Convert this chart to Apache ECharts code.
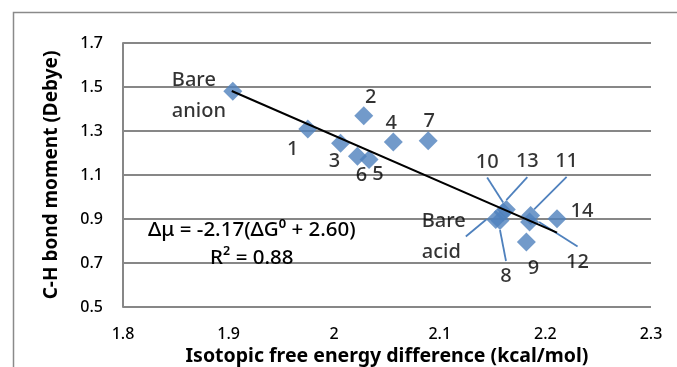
<!DOCTYPE html>
<html>
<head>
<meta charset="utf-8">
<script src="https://cdn.jsdelivr.net/npm/echarts@6/dist/echarts.min.js"></script>
<style>
html,body{margin:0;padding:0;background:#fff;}
#chart{width:677px;height:367px;}
</style>
</head>
<body>
<div id="chart"></div>
<script>
// ---- data ----
const pointNames = ['Bare anion', '1', '2', '3', '4', '5', '6', '7', 'Bare acid', '8', '9', '10', '11', '12', '13', '14'];
const isoFreeEnergy = [1.904, 1.975, 2.028, 2.006, 2.056, 2.033, 2.022, 2.089, 2.153, 2.157, 2.182, 2.160, 2.186, 2.185, 2.163, 2.211];
const bondMoment = [1.481, 1.309, 1.369, 1.244, 1.250, 1.171, 1.185, 1.256, 0.898, 0.893, 0.795, 0.932, 0.916, 0.886, 0.943, 0.901];
const trendX = [1.903, 2.211];
const trendY = [1.482, 0.838];
const xTicks = { min: 1.8, max: 2.3, step: 0.1 };
const yTicks = { min: 0.5, max: 1.7, step: 0.2 };
const pointLabels = ['Bare\nanion', '1', '2', '3', '4', '5', '6', '7', 'Bare\nacid', '8', '9', '10', '11', '12', '13', '14'];
const leaderNames = ['Bare acid', '8', '10', '11', '12', '13'];
const equationText = 'Δμ = -2.17(ΔG⁰ + 2.60)';
const r2Text = 'R² = 0.88';
const equationAt = [1.922, 0.85];
const r2At = [1.922, 0.723];

// ---- label layout (pixel offsets from point centre) ----
const labelOffsets = {
  'Bare anion': { dx: -61, dy: 5, align: 'left' },
  '1': { dx: -15, dy: 20 },
  '2': { dx: 7, dy: -19 },
  '3': { dx: -6, dy: 18 },
  '4': { dx: -2, dy: -19 },
  '5': { dx: 9, dy: 15 },
  '6': { dx: 4, dy: 19 },
  '7': { dx: 1, dy: -19 },
  'Bare acid': { dx: -74, dy: 17, align: 'left' },
  '8': { dx: 6, dy: 56 },
  '9': { dx: 7, dy: 26 },
  '10': { dx: -16, dy: -50 },
  '11': { dx: 36, dy: -54 },
  '12': { dx: 48, dy: 40 },
  '13': { dx: 21, dy: -48 },
  '14': { dx: 25, dy: -7 }
};

const FONT = '"Noto Sans"';
const BLUE = '#4f81bd';
const GRID = '#878787';
const W = 500;

const scatterData = pointNames.map((n, i) => {
  const item = { name: n, value: [isoFreeEnergy[i], bondMoment[i]], label: { formatter: pointLabels[i] } };
  if (leaderNames.indexOf(n) >= 0) {
    item.labelLine = { show: true, length2: 0, lineStyle: { color: BLUE, width: 1.8 } };
  }
  return item;
});

const chart = echarts.init(document.getElementById('chart'), null, { renderer: 'canvas' });
chart.setOption({
  animation: false,
  backgroundColor: '#fff',
  textStyle: { fontFamily: FONT },
  graphic: [{
    type: 'rect', left: 11, top: 10, z: -10, silent: true,
    shape: { width: 720, height: 420 },
    style: { fill: 'none', stroke: '#8a8a8a', lineWidth: 1.5 }
  }],
  grid: { left: 123, right: 26, top: 43, bottom: 60, containLabel: false, outerBoundsMode: 'none' },
  xAxis: {
    type: 'value', min: xTicks.min, max: xTicks.max, interval: xTicks.step,
    name: 'Isotopic free energy difference (kcal/mol)', nameLocation: 'middle', nameGap: 37,
    nameTextStyle: { fontFamily: FONT, fontWeight: 'bold', fontSize: 19.5, color: '#000' },
    axisLine: { show: false },
    axisTick: { show: false },
    splitLine: { show: false },
    axisLabel: { fontFamily: FONT, fontWeight: W, fontSize: 16, color: '#000', margin: 19 }
  },
  yAxis: {
    type: 'value', min: yTicks.min, max: yTicks.max, interval: yTicks.step,
    name: 'C-H bond moment (Debye)', nameLocation: 'middle', nameGap: 62, nameRotate: 90,
    nameTextStyle: { fontFamily: FONT, fontWeight: 'bold', fontSize: 19, color: '#000' },
    axisLine: { show: true, lineStyle: { color: GRID, width: 2 } },
    axisTick: { show: false },
    splitLine: { show: true, lineStyle: { color: GRID, width: 2 } },
    axisLabel: { fontFamily: FONT, fontWeight: W, fontSize: 16, color: '#000', margin: 20 }
  },
  series: [
    {
      type: 'line',
      data: trendX.map((x, i) => [x, trendY[i]]),
      symbol: 'none',
      lineStyle: { color: '#000', width: 2 },
      z: 3,
      silent: true
    },
    {
      type: 'scatter',
      symbol: 'diamond',
      symbolSize: 19,
      itemStyle: { color: BLUE },
      z: 2,
      data: scatterData,
      label: {
        show: true, position: 'inside', fontFamily: FONT, fontWeight: W, fontSize: 20, color: '#000', lineHeight: 31
      },
      labelLayout: function (p) {
        const o = labelOffsets[pointNames[p.dataIndex]];
        const r = { dx: o.dx, dy: o.dy };
        if (o.align) r.align = o.align;
        return r;
      }
    },
    {
      type: 'line', data: [], silent: true,
      markPoint: {
        symbol: 'circle', symbolSize: 0,
        label: { show: true, fontFamily: FONT, fontWeight: W, fontSize: 20.5, color: '#000' },
        data: [
          { coord: equationAt, value: equationText, label: { formatter: equationText } },
          { coord: r2At, value: r2Text, label: { formatter: r2Text } }
        ]
      }
    }
  ]
});
</script>
</body>
</html>
